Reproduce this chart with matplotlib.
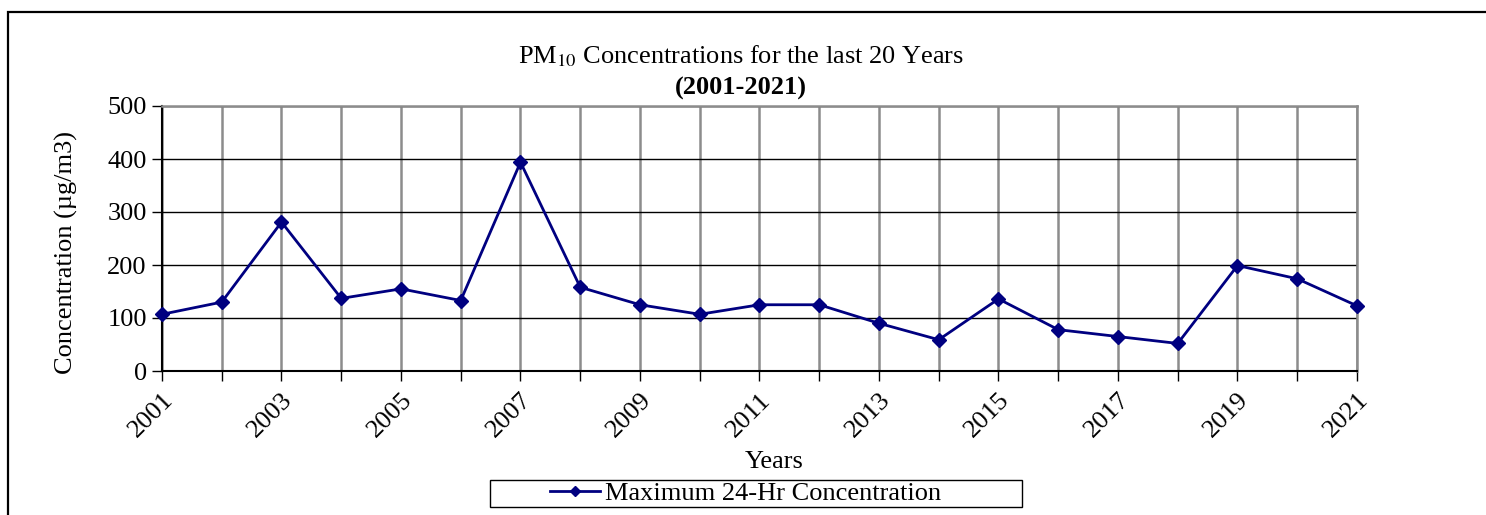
import matplotlib.pyplot as plt
from matplotlib.patches import Rectangle

# Maximum 24-hr PM10 concentration per year (ug/m3)
years = list(range(2001, 2022))
max_24hr = [107, 130, 281, 137, 155, 133, 394, 158, 125, 107, 125, 125,
            90, 59, 136, 78, 65, 52, 199, 174, 123]
tick_labels = [str(y) if (y - 2001) % 2 == 0 else '' for y in years]

plt.rcParams['font.family'] = ['Liberation Serif', 'DejaVu Serif']
plt.rcParams['mathtext.fontset'] = 'stix'

fig = plt.figure(figsize=(14.86, 5.15), dpi=100)
W, H = 1486, 515
FS = 19

# outer frame of the chart object (runs off the right and bottom)
fig.patches.append(Rectangle((8 / W, -0.05), 1.1, 1 - 12 / H + 0.05,
                             transform=fig.transFigure, fill=False,
                             edgecolor='black', linewidth=1.6))

ax = fig.add_axes([162 / W, 1 - 371 / H, (1357 - 162) / W, (371 - 106) / H])

ax.plot(years, max_24hr, color='#000080', linewidth=2, marker='D',
        markersize=7, label='Maximum 24-Hr Concentration', zorder=5,
        clip_on=False)

ax.set_xlim(2001, 2021)
ax.set_ylim(0, 500)
ax.set_yticks(range(0, 501, 100))
ax.set_xticks(years)
ax.set_xticklabels(tick_labels, rotation=45, ha='right',
                   rotation_mode='anchor', fontsize=FS)
ax.tick_params(axis='y', labelsize=FS, length=7, width=1, direction='out', pad=4)
ax.tick_params(axis='x', length=7, width=1, direction='out', pad=6,
               color='black')

# grid: black horizontals, grey verticals
ax.yaxis.grid(True, color='black', linewidth=1)
ax.xaxis.grid(True, color='#8c8c8c', linewidth=1.8)
ax.set_axisbelow(True)
for side in ['top', 'right']:
    ax.spines[side].set_color('#8c8c8c')
    ax.spines[side].set_linewidth(1.8)
for side in ['left', 'bottom']:
    ax.spines[side].set_color('black')
    ax.spines[side].set_linewidth(1.5)

fig.text(741 / W, 1 - 56 / H,
         r'PM$_{10}$ Concentrations for the last 20 Years',
         ha='center', va='center', fontsize=FS)
fig.text(741 / W, 1 - 88 / H, '(2001-2021)', ha='center', va='center',
         fontsize=FS, fontweight='bold')

fig.text(66 / W, 1 - 253 / H, 'Concentration (µg/m3)', rotation=90,
         ha='center', va='center', fontsize=FS)
fig.text(774 / W, 1 - 462 / H, 'Years', ha='center', va='center', fontsize=FS)

# legend box
fig.patches.append(Rectangle((490 / W, 1 - 507 / H), (1022 - 490) / W,
                             27 / H, transform=fig.transFigure, fill=True,
                             facecolor='white', edgecolor='black',
                             linewidth=1))
fig.legend(loc='center left', bbox_to_anchor=(550 / W, 1 - 493 / H),
           frameon=False, fontsize=FS, handlelength=1.9, handletextpad=0.2,
           borderaxespad=0, borderpad=0, markerscale=0.75)

fig.savefig('out.png', dpi=100)
